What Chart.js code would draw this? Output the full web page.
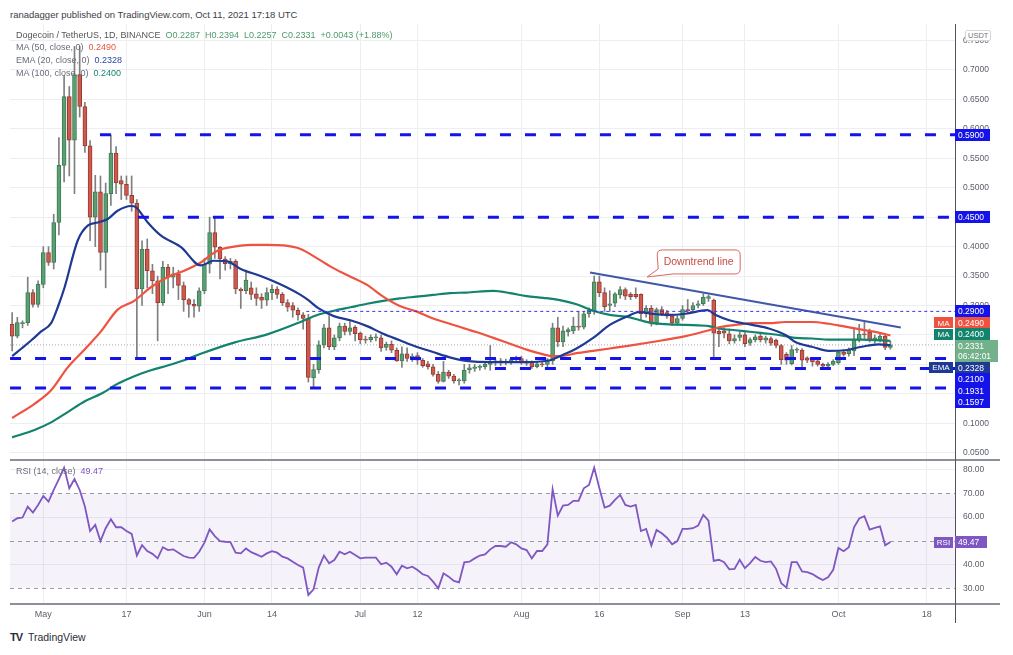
<!DOCTYPE html>
<html>
<head>
<meta charset="utf-8">
<script src="https://cdn.jsdelivr.net/npm/chart.js@4.4.0/dist/chart.umd.min.js"></script>
<style>
  body { margin: 0; background: #fff; width: 1013px; height: 655px; overflow: hidden; position: relative;
         font-family: "Liberation Sans", Arial, sans-serif; }
  canvas { position: absolute; left: 0; }
  #main { top: 24px; }
  #rsi { top: 459px; }
  .t { position: absolute; white-space: nowrap; font-size: 9px; line-height: 12px; color: #6a6d78; }
  .usdt { position: absolute; left: 965px; top: 30px; font-size: 7.5px; line-height: 9px; color: #777;
          background: #fff; border: 1px solid #d5d7dc; border-radius: 2px; padding: 0 2px; }
</style>
</head>
<body>
<canvas id="main" width="1013" height="435"></canvas>
<canvas id="rsi" width="1013" height="166"></canvas>

<div class="t" style="left:10px;top:9px;color:#3b3e47;font-size:9.5px">ranadagger published on TradingView.com, Oct 11, 2021 17:18 UTC</div>
<div class="t" style="left:16px;top:29px;color:#555">Dogecoin / TetherUS, 1D, BINANCE&nbsp;&nbsp;<span style="color:#4f9a6c">O0.2287&nbsp;&nbsp;H0.2394&nbsp;&nbsp;L0.2257&nbsp;&nbsp;C0.2331&nbsp;&nbsp;+0.0043 (+1.88%)</span></div>
<div class="t" style="left:16px;top:41px">MA (50, close, 0)&nbsp;&nbsp;<span style="color:#ef5340">0.2490</span></div>
<div class="t" style="left:16px;top:54px">EMA (20, close, 0)&nbsp;&nbsp;<span style="color:#2b47a8">0.2328</span></div>
<div class="t" style="left:16px;top:67px">MA (100, close, 0)&nbsp;&nbsp;<span style="color:#14876f">0.2400</span></div>
<div class="t" style="left:16px;top:465px">RSI (14, close)&nbsp;&nbsp;<span style="color:#7e57c2">49.47</span></div>
<div class="usdt">USDT</div>
<div class="t" style="left:10px;top:631px;color:#2a2e39;font-size:10.5px;line-height:13px"><b style="font-weight:900;letter-spacing:-1px;font-size:11px">TV</b>&nbsp;&nbsp;TradingView</div>

<script>
// day 0 = Apr 25 2021, one candle per day up to Oct 11 (day 169)
const tickDays = [6, 22, 37, 50, 67, 78, 98, 113, 129, 141, 159, 176];
const tickText = ['May', '17', 'Jun', '14', 'Jul', '12', 'Aug', '16', 'Sep', '13', 'Oct', '18'];
const priceTicks = [0.05, 0.10, 0.15, 0.20, 0.25, 0.30, 0.35, 0.40, 0.45, 0.50, 0.55, 0.60, 0.65, 0.70, 0.75];
const rsiTicks = [30, 40, 50, 60, 70, 80];
const rsiBands = [70, 50, 30];

const opens = [
  .268,.248,.269,.271,.322,.302,.336,.390,.373,.441,
  .538,.655,.581,.692,.638,.571,.450,.493,.390,.490,
  .559,.512,.506,.487,.474,.328,.396,.359,.342,.305,
  .365,.348,.354,.334,.310,.302,.299,.325,.370,.424,
  .399,.379,.371,.375,.328,.325,.330,.320,.314,.309,
  .322,.328,.319,.305,.300,.292,.284,.278,.177,.191,
  .233,.262,.230,.245,.265,.256,.263,.253,.243,.242,
  .245,.245,.229,.234,.224,.206,.218,.212,.215,.207,
  .201,.196,.183,.171,.187,.180,.172,.172,.191,.193,
  .195,.196,.200,.203,.206,.203,.203,.208,.210,.205,
  .204,.196,.201,.200,.206,.262,.238,.255,.257,.265,
  .263,.286,.290,.340,.322,.300,.304,.318,.327,.319,
  .319,.319,.286,.295,.270,.293,.288,.282,.270,.278,
  .293,.293,.300,.303,.312,.309,.256,.257,.252,.240,
  .246,.250,.236,.242,.248,.241,.244,.241,.232,.217,
  .201,.224,.224,.211,.210,.206,.200,.197,.200,.203,
  .221,.218,.223,.241,.2505,.255,.241,.242,.248,.2287
];
const highs = [
  .288,.280,.274,.348,.327,.342,.400,.400,.455,.585,
  .690,.672,.740,.740,.645,.580,.521,.520,.508,.590,
  .570,.520,.520,.520,.480,.410,.413,.370,.350,.375,
  .370,.365,.360,.340,.312,.310,.330,.380,.450,.450,
  .400,.383,.380,.378,.330,.360,.340,.330,.320,.330,
  .335,.332,.322,.310,.305,.296,.288,.285,.200,.240,
  .268,.283,.250,.270,.270,.275,.266,.255,.248,.250,
  .252,.250,.238,.240,.228,.230,.228,.218,.220,.210,
  .205,.200,.188,.205,.190,.183,.176,.200,.200,.200,
  .199,.203,.232,.208,.210,.209,.212,.214,.214,.208,
  .206,.205,.204,.210,.270,.280,.265,.262,.280,.290,
  .290,.296,.350,.350,.330,.325,.322,.332,.330,.322,
  .330,.320,.300,.300,.296,.298,.292,.285,.282,.300,
  .310,.305,.308,.320,.318,.311,.262,.262,.260,.250,
  .255,.254,.245,.250,.252,.248,.247,.243,.234,.220,
  .232,.228,.227,.213,.212,.208,.202,.203,.208,.224,
  .225,.228,.260,.268,.272,.260,.250,.252,.252,.2394
];
const lows = [
  .223,.245,.262,.266,.297,.297,.330,.368,.362,.420,
  .510,.520,.490,.620,.560,.410,.400,.360,.330,.470,
  .490,.480,.480,.460,.210,.300,.330,.320,.240,.300,
  .320,.330,.310,.290,.280,.280,.290,.320,.355,.380,
  .345,.360,.362,.320,.295,.320,.310,.300,.295,.300,
  .310,.312,.300,.290,.280,.275,.260,.170,.161,.185,
  .228,.225,.225,.240,.250,.250,.240,.235,.236,.238,
  .240,.222,.224,.220,.205,.195,.205,.205,.200,.195,
  .192,.180,.168,.170,.176,.168,.165,.168,.185,.188,
  .190,.192,.190,.198,.198,.199,.200,.203,.200,.198,
  .193,.194,.196,.196,.200,.230,.230,.248,.252,.258,
  .260,.280,.285,.315,.290,.290,.298,.312,.310,.310,
  .312,.275,.280,.265,.267,.283,.278,.266,.266,.275,
  .287,.290,.296,.300,.307,.212,.230,.245,.235,.236,
  .240,.230,.232,.238,.238,.236,.232,.228,.200,.200,
  .199,.220,.195,.203,.197,.197,.194,.195,.198,.200,
  .214,.214,.215,.238,.244,.238,.236,.238,.225,.2257
];
const closes = [
  .248,.271,.271,.322,.302,.336,.390,.373,.441,.538,
  .655,.581,.692,.638,.571,.450,.493,.390,.490,.559,
  .508,.506,.487,.474,.328,.396,.359,.342,.305,.365,
  .348,.354,.334,.310,.302,.299,.325,.370,.424,.399,
  .379,.371,.375,.328,.325,.343,.319,.312,.309,.322,
  .328,.319,.305,.297,.292,.284,.278,.178,.191,.233,
  .262,.230,.245,.265,.256,.262,.252,.242,.241,.246,
  .2455,.228,.234,.224,.206,.218,.210,.213,.207,.198,
  .196,.183,.171,.187,.180,.172,.173,.190,.194,.196,
  .196,.200,.203,.206,.203,.205,.208,.210,.204,.202,
  .196,.201,.199,.206,.262,.238,.257,.259,.265,.263,
  .286,.292,.340,.322,.298,.303,.320,.327,.316,.315,
  .315,.286,.295,.270,.293,.286,.282,.270,.278,.293,
  .291,.300,.303,.314,.315,.253,.252,.253,.240,.244,
  .250,.235,.242,.247,.242,.245,.236,.232,.208,.207,
  .225,.225,.207,.207,.204,.200,.197,.200,.205,.221,
  .217,.224,.242,.251,.250,.241,.245,.248,.2287,.2331
];

// indicator lines: [day, value]
const ema20 = [[0,.214],[1.8,.227],[3.7,.241],[5.6,.256],[7.5,.270],[8.9,.300],[10.1,.331],[12.6,.410],[14.6,.436],
  [16.5,.441],[18.4,.447],[20.3,.461],[22.9,.469],[23.8,.467],[26.1,.441],[28.6,.419],[32.5,.399],[36.3,.368],
  [38.8,.376],[41.4,.375],[44,.362],[47.8,.350],[51.6,.336],[55.5,.318],[57,.309],[59,.295],[61.9,.282],[65.1,.275],
  [68.3,.265],[71.4,.252],[74.6,.241],[77.8,.230],[81,.221],[84.2,.212],[87.4,.206],[92.6,.204],[99,.204],
  [103.5,.207],[105.4,.214],[108.6,.227],[111.8,.245],[115,.267],[118.2,.281],[120.8,.289],[123,.286],[126.4,.284],
  [129.6,.286],[133.8,.292],[135.4,.284],[138,.275],[142.4,.267],[145.6,.261],[148.8,.250],[150.7,.238],[153.9,.230],
  [157.1,.223],[160.3,.224],[163.5,.230],[166.7,.234],[169,.2328]];
const ma50 = [[0,.109],[4.3,.133],[7.5,.156],[10.7,.195],[13.9,.225],[17.1,.256],[20.3,.293],[23.5,.308],[26.7,.331],
  [29.9,.348],[33.1,.359],[36.3,.373],[39.5,.393],[42.7,.400],[45.9,.403],[49.1,.403],[52.3,.402],[55.5,.396],
  [58.7,.380],[61.9,.363],[65.1,.349],[68.3,.335],[71.4,.315],[74.6,.299],[77.8,.290],[81,.278],[84.2,.269],
  [87.4,.260],[89.3,.255],[92.6,.245],[95.8,.235],[99,.225],[102.2,.217],[104.1,.214],[105.4,.214],[108.6,.219],
  [111.8,.223],[115,.227],[118.2,.231],[123.2,.238],[129.6,.248],[134.1,.258],[136,.263],[139.2,.267],[142.4,.270],
  [145.6,.270],[148.8,.272],[153.9,.272],[157.1,.269],[160.3,.264],[163.5,.259],[166.7,.254],[169,.249]];
const ma100 = [[0,.076],[4.3,.0886],[7.5,.1015],[10.7,.119],[13.9,.137],[17.1,.150],[20.3,.167],[23.5,.180],
  [26.7,.190],[29.9,.198],[33.1,.207],[36.3,.218],[42.7,.237],[49.1,.251],[55.5,.272],[58.7,.284],[61.9,.291],
  [65.1,.297],[68.3,.303],[71.4,.308],[74.6,.312],[77.8,.315],[81,.318],[84.2,.321],[87.4,.322],[92.6,.325],
  [95.8,.321],[99,.316],[102.2,.313],[105.4,.309],[108.6,.302],[111.8,.291],[115,.284],[118.2,.281],[120.8,.275],
  [123.2,.270],[126.4,.268],[129.6,.267],[134.1,.265],[136,.261],[139.2,.258],[142.4,.255],[145.6,.252],
  [148.8,.248],[150.7,.245],[153.9,.244],[157.1,.242],[163.5,.242],[169,.240]];

// horizontal levels drawn on the chart and the day each one starts
const levelVals = [0.59, 0.45, 0.21, 0.1931, 0.1597];
const levelFrom = [16.9, 24.2, -0.4, 92.9, -0.4];
const thinLevel = 0.29, thinFrom = 56.6;
const trendLine = [[111.2, 0.356], [171.0, 0.2625]];
const noteAnchor = [122.2, 0.3485];
const noteText = 'Downtrend line';
const countdown = '06:42:01';

const rsiVals = [
  58.1,59.5,59.8,64.4,61.9,65.1,68.9,66.5,71.4,76.0,
  80.8,72.1,76.0,71.4,64.4,54.1,56.7,49.9,55.3,59.1,
  55.7,55.7,54.1,52.9,43.8,48.2,45.7,44.5,42.6,47.3,
  46.1,46.4,45.0,43.6,42.9,42.8,45.4,49.2,54.8,52.0,
  49.9,49.6,49.4,45.0,44.7,46.8,45.2,44.3,43.3,44.7,
  45.6,45.0,43.3,42.6,41.2,39.8,38.7,27.2,29.6,38.7,
  43.8,40.5,41.9,45.4,44.3,45.4,44.0,42.6,42.9,42.9,
  42.9,40.1,40.8,39.1,35.9,39.5,38.4,39.1,37.7,35.9,
  35.2,32.8,30.0,36.3,34.9,33.1,32.5,40.9,41.2,42.6,
  43.8,44.3,46.4,47.8,47.8,47.5,49.4,48.5,46.8,46.1,
  42.6,45.7,45.7,48.5,71.7,60.6,64.8,65.1,66.8,66.8,
  72.1,73.5,80.8,72.1,64.0,64.8,67.2,69.3,65.1,64.4,
  65.1,54.1,55.0,48.0,54.6,53.2,51.3,48.5,49.9,55.0,
  55.0,55.3,56.4,60.9,58.5,41.5,42.0,41.0,38.0,38.2,
  42.0,38.5,40.6,43.2,41.6,41.0,41.3,38.2,32.1,30.3,
  41.0,41.0,37.1,36.8,36.0,34.6,33.5,34.6,37.8,47.0,
  45.6,47.3,55.7,59.4,60.4,54.7,55.4,56.1,48.1,49.47
];

const X_MIN = -0.41, X_MAX = 181.43;
const UP = '#5a9f72', UP_EDGE = '#3f7c55', DOWN = '#cd5a4d', DOWN_EDGE = '#9b3a31', WICK = '#7f7f7f';
const RED = '#ef5340', NAVY = '#1f3a93', TEAL = '#12836d', LEVEL = '#1414ea', PURPLE = '#7e57c2';
const GRID = '#eceef2', TICK = '#5d606b';
Chart.defaults.font.family = '"Liberation Sans", Arial, sans-serif';

const fmt = v => v.toFixed(4);
const lastOf = arr => arr[arr.length - 1][1];
const lastClose = closes[closes.length - 1];
const isUp = i => closes[i] >= opens[i];
const pts = arr => arr.map(([x, y]) => ({ x, y }));

const xAxis = () => ({
  type: 'linear', min: X_MIN, max: X_MAX, offset: false,
  afterBuildTicks: s => { s.ticks = tickDays.map(value => ({ value })); },
  grid: { color: GRID, drawTicks: false, offset: false },
  border: { display: false },
  ticks: { display: false },
  afterFit: s => { s.height = 0; s.paddingLeft = 0; s.paddingRight = 0; }
});

const levelSets = levelVals.map((v, i) => ({
  type: 'line', order: 0, data: [{ x: levelFrom[i], y: v }, { x: X_MAX, y: v }],
  borderColor: LEVEL, borderWidth: 3, borderDash: [11, 14], pointRadius: 0
}));

// relaxes the right-axis labels so that they do not overlap
function layoutTags(list) {
  list.sort((a, b) => a.y - b.y);
  for (let k = 0; k < 300; k++) {
    let moved = false;
    for (let i = 1; i < list.length; i++) {
      const a = list[i - 1], b = list[i];
      const need = (a.h + b.h) / 2 - (b.y - a.y);
      if (need > 0.05) {
        moved = true;
        if (a.pin) b.y += need;
        else if (b.pin) a.y -= need;
        else { a.y -= need / 2; b.y += need / 2; }
      }
    }
    if (!moved) break;
  }
}

function drawTag(ctx, x, y, w, h, bg, lines) {
  ctx.fillStyle = bg;
  ctx.fillRect(x, Math.round(y - h / 2), w, h);
  ctx.fillStyle = '#fff';
  ctx.font = '8.5px "Liberation Sans", Arial, sans-serif';
  ctx.textBaseline = 'middle';
  ctx.textAlign = 'left';
  if (lines.length === 1) ctx.fillText(lines[0], x + 3, y + 0.5);
  else { ctx.fillText(lines[0], x + 3, y - 4.5); ctx.fillText(lines[1], x + 3, y + 5.5); }
}

function drawSide(ctx, right, y, w, bg, label) {
  ctx.fillStyle = bg;
  ctx.fillRect(right - w, Math.round(y - 5.5), w, 11);
  ctx.fillStyle = '#fff';
  ctx.font = '8px "Liberation Sans", Arial, sans-serif';
  ctx.textAlign = 'center';
  ctx.textBaseline = 'middle';
  ctx.fillText(label, right - w / 2, y + 0.5);
}

const mainPlugin = {
  id: 'mainExtras',
  afterDraw(chart) {
    const { ctx, chartArea, scales: { x, y } } = chart;
    ctx.save();
    // speech bubble note
    const ax = x.getPixelForValue(noteAnchor[0]), ay = y.getPixelForValue(noteAnchor[1]);
    const L = ax + 10, R = ax + 93, T = ay - 27, B = ay - 3, r = 5;
    ctx.beginPath();
    ctx.moveTo(L + r, T); ctx.lineTo(R - r, T); ctx.quadraticCurveTo(R, T, R, T + r);
    ctx.lineTo(R, B - r); ctx.quadraticCurveTo(R, B, R - r, B);
    ctx.lineTo(L + 16, B); ctx.lineTo(ax, ay); ctx.lineTo(L + 1, B - 5);
    ctx.lineTo(L, T + r); ctx.quadraticCurveTo(L, T, L + r, T);
    ctx.closePath();
    ctx.fillStyle = '#fff'; ctx.fill();
    ctx.strokeStyle = '#d8675f'; ctx.lineWidth = 1; ctx.stroke();
    ctx.fillStyle = '#c64b45';
    ctx.font = '10.5px "Liberation Sans", Arial, sans-serif';
    ctx.textAlign = 'center'; ctx.textBaseline = 'middle';
    ctx.fillText(noteText, (L + R) / 2, (T + B) / 2 + 0.5);

    // right axis labels
    const tags = [
      ...levelVals.slice(0, 2).map(v => ({ v, bg: LEVEL })),
      { v: thinLevel, bg: LEVEL, pin: true },
      { v: lastOf(ma50), bg: RED, side: 'MA', sideW: 19 },
      { v: lastOf(ma100), bg: TEAL, side: 'MA', sideW: 19 },
      { v: lastClose, bg: 'rgba(103,170,128,0.92)', two: true },
      { v: lastOf(ema20), bg: NAVY, side: 'EMA', sideW: 24 },
      ...levelVals.slice(2).map(v => ({ v, bg: LEVEL }))
    ].map(t => ({ ...t, y: y.getPixelForValue(t.v), h: t.two ? 22 : 11.5 }));
    layoutTags(tags);
    const ordered = tags.filter(t => !t.two).concat(tags.filter(t => t.two));
    ordered.forEach(t => {
      if (t.two) drawTag(ctx, chartArea.right, t.y, 43, 22, t.bg, [fmt(t.v), countdown]);
      else drawTag(ctx, chartArea.right, t.y, 35, 12, t.bg, [fmt(t.v)]);
      if (t.side) drawSide(ctx, chartArea.right - 2, t.y, t.sideW, t.bg, t.side);
    });
    ctx.restore();
  }
};

new Chart(document.getElementById('main'), {
  type: 'bar',
  data: {
    datasets: [
      ...levelSets,
      { type: 'line', order: 0, data: [{ x: thinFrom, y: thinLevel }, { x: X_MAX, y: thinLevel }],
        borderColor: '#3434ee', borderWidth: 1, borderDash: [3, 3], pointRadius: 0 },
      { type: 'line', order: 1, data: pts(trendLine), borderColor: '#4157a8', borderWidth: 2, pointRadius: 0 },
      { type: 'line', order: 5, data: [{ x: X_MIN, y: lastClose }, { x: X_MAX, y: lastClose }],
        borderColor: '#a7a9b0', borderWidth: 1, borderDash: [1, 2], pointRadius: 0 },
      { type: 'line', order: 2, data: pts(ema20), borderColor: NAVY, borderWidth: 2.2, pointRadius: 0,
        cubicInterpolationMode: 'monotone' },
      { type: 'line', order: 2, data: pts(ma50), borderColor: RED, borderWidth: 2.2, pointRadius: 0,
        cubicInterpolationMode: 'monotone' },
      { type: 'line', order: 2, data: pts(ma100), borderColor: TEAL, borderWidth: 2.2, pointRadius: 0,
        cubicInterpolationMode: 'monotone' },
      { order: 3, grouped: false, barThickness: 4, minBarLength: 1, borderWidth: 1, borderSkipped: false,
        data: opens.map((o, i) => ({ x: i, y: [o, closes[i]] })),
        backgroundColor: c => (c.dataIndex === undefined || isUp(c.dataIndex)) ? UP : DOWN,
        borderColor: c => (c.dataIndex === undefined || isUp(c.dataIndex)) ? UP_EDGE : DOWN_EDGE },
      { order: 4, grouped: false, barThickness: 1, backgroundColor: WICK, borderWidth: 0,
        data: lows.map((l, i) => ({ x: i, y: [l, highs[i]] })) }
    ]
  },
  options: {
    responsive: false, animation: false, events: [],
    layout: { padding: { left: 10, right: 0, top: 0, bottom: 0 } },
    plugins: { legend: { display: false }, tooltip: { enabled: false } },
    scales: {
      x: xAxis(),
      y: {
        position: 'right', min: 0.0393, max: 0.7781,
        afterBuildTicks: s => { s.ticks = priceTicks.map(value => ({ value })); },
        afterFit: s => { s.width = 58; s.paddingTop = 0; s.paddingBottom = 0; },
        ticks: { padding: 8, color: TICK, font: { size: 8.5 }, callback: v => v.toFixed(4) },
        grid: { color: GRID, drawTicks: false },
        border: { display: true, color: '#50535e' }
      }
    }
  },
  plugins: [mainPlugin]
});

const rsiPlugin = {
  id: 'rsiExtras',
  beforeDatasetsDraw(chart) {
    const { ctx, chartArea: a, scales: { y } } = chart;
    ctx.save();
    ctx.fillStyle = 'rgba(126,87,194,0.075)';
    const top = y.getPixelForValue(rsiBands[0]), bot = y.getPixelForValue(rsiBands[2]);
    ctx.fillRect(a.left, top, a.right - a.left, bot - top);
    ctx.strokeStyle = '#9a9ca3'; ctx.lineWidth = 1; ctx.setLineDash([4, 4]);
    rsiBands.forEach(v => {
      const p = Math.round(y.getPixelForValue(v)) + 0.5;
      ctx.beginPath(); ctx.moveTo(a.left, p); ctx.lineTo(a.right, p); ctx.stroke();
    });
    ctx.restore();
  },
  afterDraw(chart) {
    const { ctx, chartArea: a, scales: { y } } = chart;
    ctx.save();
    ctx.strokeStyle = '#8d9098'; ctx.lineWidth = 2;
    [a.top + 1, a.bottom].forEach(p => {
      ctx.beginPath(); ctx.moveTo(a.left, p); ctx.lineTo(1000, p); ctx.stroke();
    });
    ctx.strokeStyle = '#50535e'; ctx.lineWidth = 1;
    ctx.beginPath(); ctx.moveTo(a.right + 0.5, a.top); ctx.lineTo(a.right + 0.5, a.bottom + 19); ctx.stroke();
    const last = rsiVals[rsiVals.length - 1];
    const p = y.getPixelForValue(last);
    drawTag(ctx, a.right, p, 32, 12, PURPLE, [last.toFixed(2)]);
    drawSide(ctx, a.right - 2, p, 19, PURPLE, 'RSI');
    ctx.restore();
  }
};

const rsiX = xAxis();
rsiX.ticks = { display: true, padding: 5, color: TICK, font: { size: 9 }, autoSkip: false, maxRotation: 0,
  callback: v => tickText[tickDays.indexOf(v)] ?? '' };
rsiX.afterFit = s => { s.height = 21; s.paddingLeft = 0; s.paddingRight = 0; };

new Chart(document.getElementById('rsi'), {
  type: 'line',
  data: {
    datasets: [{
      data: rsiVals.map((r, i) => ({ x: i, y: r })),
      borderColor: PURPLE, borderWidth: 1.8, pointRadius: 0
    }]
  },
  options: {
    responsive: false, animation: false, events: [],
    layout: { padding: { left: 10, right: 0, top: 0, bottom: 0 } },
    plugins: { legend: { display: false }, tooltip: { enabled: false } },
    scales: {
      x: rsiX,
      y: {
        position: 'right', min: 23.39, max: 84.44,
        afterBuildTicks: s => { s.ticks = rsiTicks.map(value => ({ value })); },
        afterFit: s => { s.width = 58; s.paddingTop = 0; s.paddingBottom = 0; },
        ticks: { padding: 8, color: TICK, font: { size: 8.5 }, callback: v => v.toFixed(2) },
        grid: { color: c => rsiBands.includes(c.tick && c.tick.value) ? 'rgba(0,0,0,0)' : GRID, drawTicks: false },
        border: { display: false }
      }
    }
  },
  plugins: [rsiPlugin]
});
</script>
</body>
</html>
